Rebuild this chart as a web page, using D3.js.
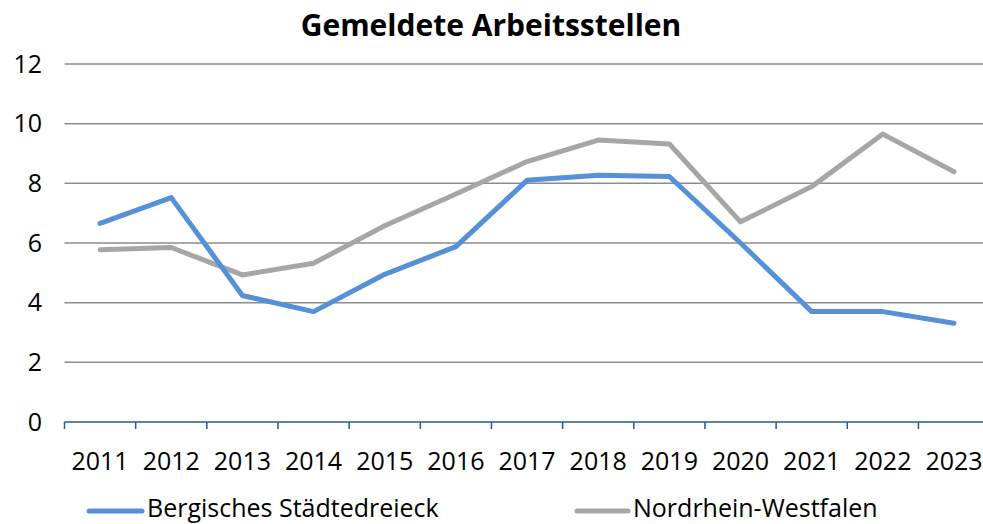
<!DOCTYPE html>
<html><head><meta charset="utf-8">
<script src="https://cdn.jsdelivr.net/npm/d3@7"></script>
<style>html,body{margin:0;padding:0;background:#fff;overflow:hidden}</style>
</head><body>
<script>
const title = "Gemeldete Arbeitsstellen";
const years = ["2011","2012","2013","2014","2015","2016","2017","2018","2019","2020","2021","2022","2023"];
const bergisch = [6.66,7.52,4.24,3.70,4.95,5.88,8.10,8.27,8.23,6.0,3.70,3.70,3.31];
const nrw = [5.77,5.85,4.93,5.32,6.58,7.64,8.73,9.45,9.32,6.71,7.89,9.65,8.39];
const yTicks = [0,2,4,6,8,10,12];
const seriesNames = ["Bergisches Städtedreieck","Nordrhein-Westfalen"];
const colors = ["#5590d8","#a6a6a6"];

const W=983,H=524;
const font = "'Open Sans', 'Noto Sans', sans-serif";
const svg = d3.select("body").append("svg").attr("width",W).attr("height",H);

const x = d3.scaleBand().domain(years).range([64.5, 989.6]);
const y = d3.scaleLinear().domain([0,12]).range([422,64]);

svg.append("text").attr("x",491).attr("y",36).attr("text-anchor","middle")
  .attr("font-family",font).attr("font-weight","bold").attr("font-size",30).attr("fill","#000").text(title);

// grid
svg.append("g").selectAll("line").data(yTicks.filter(d=>d>0)).join("line")
  .attr("x1",64.5).attr("x2",W).attr("y1",d=>y(d)).attr("y2",d=>y(d))
  .attr("stroke","#8c8c8c").attr("stroke-width",1.5);

// y axis labels
svg.append("g").selectAll("text").data(yTicks).join("text")
  .attr("x",42).attr("y",d=>y(d)).attr("dy","0.35em").attr("text-anchor","end")
  .attr("font-family",font).attr("font-size",25).attr("fill","#000").text(d=>d);

// x axis
const xAxis = svg.append("g").attr("transform","translate(0,422)")
  .call(d3.axisBottom(x).tickSize(0).tickFormat(d=>d));
xAxis.select(".domain").remove();
xAxis.selectAll("text").attr("font-family",font).attr("font-size",25).attr("fill","#000").attr("dy",0).attr("y",48);
svg.append("line").attr("x1",64.5).attr("x2",W).attr("y1",422).attr("y2",422).attr("stroke","#1f5aa8").attr("stroke-width",1.5);
const tickXs = years.map(d=>x(d)).concat([x(years[years.length-1])+x.bandwidth()]);
svg.append("g").selectAll("line").data(tickXs).join("line")
  .attr("x1",d=>d).attr("x2",d=>d).attr("y1",422).attr("y2",429)
  .attr("stroke","#1f5aa8").attr("stroke-width",1.5);

// lines
const line = d3.line().x((d,i)=>x(years[i])+x.bandwidth()/2).y(d=>y(d));
[nrw, bergisch].forEach((s,k)=>{
  const c = k===0?colors[1]:colors[0];
  svg.append("path").datum(s).attr("d",line).attr("fill","none")
    .attr("stroke",c).attr("stroke-width",5).attr("stroke-linecap","round").attr("stroke-linejoin","round");
});

// legend
const leg = [{x:89,tx:147},{x:577,tx:633}];
seriesNames.forEach((n,i)=>{
  svg.append("line").attr("x1",leg[i].x).attr("x2",leg[i].tx-5).attr("y1",511).attr("y2",511)
    .attr("stroke",colors[i]).attr("stroke-width",5).attr("stroke-linecap","round");
  svg.append("text").attr("x",leg[i].tx).attr("y",508).attr("dy","0.35em")
    .attr("font-family",font).attr("font-size",25).attr("fill","#000").text(n);
});
</script>
</body></html>
